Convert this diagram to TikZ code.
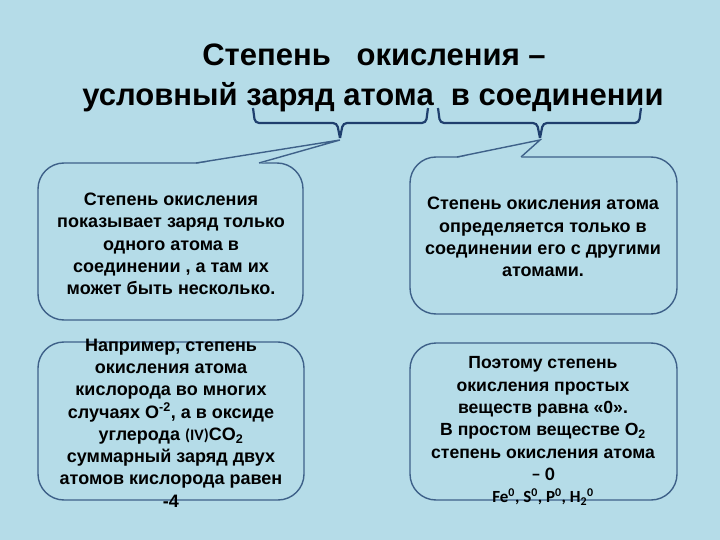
\documentclass[tikz,border=0pt]{standalone}
\usepackage{fontspec}
\setmainfont{Liberation Sans}
\newfontfamily\calib{Carlito}
\definecolor{bgc}{HTML}{B5DCE8}
\definecolor{brd}{HTML}{3E6189}
\definecolor{brc}{HTML}{1F3F6E}
\tikzset{
  callbox/.style={draw=brd,line width=1.4pt,rounded corners=26pt},
  wedge/.style={draw=brd,line width=1.4pt,line join=miter},
  brace/.style={draw=brc,line width=2.2pt,rounded corners=4pt},
  bodytxt/.style={align=center,font=\bfseries\fontsize{18}{22.3}\selectfont,inner sep=0pt},
  bodytxtb/.style={align=center,font=\bfseries\fontsize{17.6}{22.3}\selectfont,inner sep=0pt},
  titletxt/.style={align=center,font=\bfseries\fontsize{31}{42}\selectfont,inner sep=0pt}
}
\begin{document}
\begin{tikzpicture}[x=1pt,y=-1pt]
\fill[bgc] (0,0) rectangle (720,540);
\useasboundingbox (0,0) rectangle (720,540);
% title
\node[titletxt] (t1) at (374,55) {Степень\ \ \ окисления –};
\node[titletxt] (t2) at (373,97) {условный заряд атома\ \ в соединении};
% braces
\draw[brace] (253,108) -- (255,123) -- (337,123) -- (340,138);
\draw[brace] (340,138) -- (343,123) -- (426,123) -- (428,108);
\draw[brace] (438,108) -- (440,123) -- (537,123) -- (540,138);
\draw[brace] (540,138) -- (543,123) -- (639,123) -- (641,108);
\coordinate (tipA) at (340,140);
\coordinate (tipB) at (540,140);
% box 1
\draw[callbox] (38,163) rectangle (303,320);
\fill[bgc] (196,164) -- (tipA) -- (259,164) -- cycle;
\draw[wedge] (196,163) -- (tipA) -- (259,163);
% box 2
\draw[callbox] (410,157) rectangle (677,314);
\fill[bgc] (457,158) -- (tipB) -- (521,158) -- cycle;
\draw[wedge] (457,157) -- (tipB) -- (521,157);
% box 3, 4
\draw[callbox] (38,342) rectangle (304,500);
\draw[callbox] (410,343) rectangle (677,500);
% texts
\node[bodytxt] (b1) at (171,244) {Степень окисления\\показывает заряд только\\одного атома в\\соединении , а там их\\может быть несколько.};
\node[bodytxt] (b2) at (543,237) {Степень окисления атома\\определяется только в\\соединении его с другими\\атомами.};
\node[bodytxt] (b3) at (171,423) {Например, степень\\окисления атома\\кислорода во многих\\случаях O\textsuperscript{-2}, а в оксиде\\углерода {\calib\fontsize{16}{16}\selectfont(IV)}CO\textsubscript{2}\\суммарный заряд двух\\атомов кислорода равен\\-4};
\node[bodytxtb] (b4) at (543,431) {Поэтому степень\\окисления простых\\веществ равна «0».\\В простом веществе O\textsubscript{2}\\степень окисления атома\\{\calib\fontsize{19}{19}\selectfont – 0}\\{\calib\fontsize{17}{17}\selectfont Fe\textsuperscript{0}, S\textsuperscript{0}, P\textsuperscript{0}, H\textsubscript{2}\textsuperscript{0}}};
\end{tikzpicture}
\end{document}
